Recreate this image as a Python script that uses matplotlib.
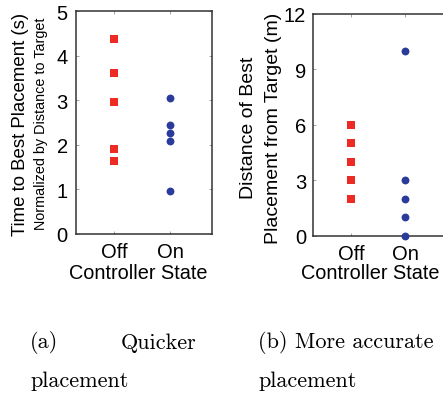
import matplotlib
matplotlib.use("Agg")
import matplotlib.pyplot as plt

categories = ["Off", "On"]
time_off = [4.37, 3.60, 2.95, 1.90, 1.62]
time_on = [3.05, 2.43, 2.25, 2.07, 0.95]
dist_off = [6, 5, 4, 3, 2]
dist_on = [10, 3, 2, 1, 0]
time_ticks = [0, 1, 2, 3, 4, 5]
dist_ticks = [0, 3, 6, 9, 12]

RED = "#ee2a24"
BLUE = "#2b3b9c"
SANS = ["Liberation Sans", "DejaVu Sans"]

W, H = 443, 402
fig = plt.figure(figsize=(W / 100, H / 100), dpi=100)


def px_axes(x0, y0, x1, y1):
    return fig.add_axes([x0 / W, 1 - y1 / H, (x1 - x0) / W, (y1 - y0) / H])


def style(ax, yticks, ylim, ypad):
    ax.set_xlim(0.32, 2.75)
    ax.set_ylim(*ylim)
    ax.set_xticks([1, 2])
    ax.set_xticklabels(categories, fontfamily=SANS, fontsize=14.5)
    ax.set_yticks(yticks)
    ax.set_yticklabels([str(t) for t in yticks], fontfamily=SANS, fontsize=14.5)
    ax.tick_params(direction="in", length=2.5, width=0.6, color="#7f9a9a",
                   top=True, right=True)
    ax.tick_params(axis="x", pad=6)
    ax.tick_params(axis="y", pad=ypad)
    for s in ax.spines.values():
        s.set_linewidth(1.1)
        s.set_color("#333333")


ax1 = px_axes(76, 12, 212, 234.5)
ax1.scatter([1] * len(time_off), time_off, marker="s", s=28, color=RED, clip_on=False, zorder=3, linewidths=0)
ax1.scatter([2] * len(time_on), time_on, marker="o", s=32, color=BLUE, clip_on=False, zorder=3, linewidths=0)
style(ax1, time_ticks, (0, 5), 6)
fig.text(21 / W, 1 - 124 / H, "Time to Best Placement (s)", rotation=90, ha="center", va="center",
         fontfamily=SANS, fontsize=13.4)
fig.text(41 / W, 1 - 124 / H, "Normalized by Distance to Target", rotation=90, ha="center", va="center",
         fontfamily=SANS, fontsize=10.4)
fig.text(138 / W, 1 - 274 / H, "Controller State", ha="center", va="center", fontfamily=SANS, fontsize=14.3)

ax2 = px_axes(313, 14.5, 449, 236.7)
ax2.scatter([1] * len(dist_off), dist_off, marker="s", s=28, color=RED, clip_on=False, zorder=3, linewidths=0)
ax2.scatter([2] * len(dist_on), dist_on, marker="o", s=32, color=BLUE, clip_on=False, zorder=3, linewidths=0)
style(ax2, dist_ticks, (0, 12), 5)
ax2.set_xlim(0.30, 2.8)
fig.text(249 / W, 1 - 128 / H, "Distance of Best", rotation=90, ha="center", va="center",
         fontfamily=SANS, fontsize=14)
fig.text(273 / W, 1 - 128 / H, "Placement from Target (m)", rotation=90, ha="center", va="center",
         fontfamily=SANS, fontsize=14)
fig.text(370 / W, 1 - 274 / H, "Controller State", ha="center", va="center", fontfamily=SANS, fontsize=14.3)

CAP = ["cmr10", "DejaVu Serif"]
FS = 16
fig.text(30 / W, 1 - 343 / H, "(a)", ha="left", va="center", fontfamily=CAP, fontsize=FS)
fig.text(196 / W, 1 - 343 / H, "Quicker", ha="right", va="center", fontfamily=CAP, fontsize=FS)
fig.text(30 / W, 1 - 381 / H, "placement", ha="left", va="center", fontfamily=CAP, fontsize=FS)
fig.text(258 / W, 1 - 343 / H, "(b) More accurate", ha="left", va="center", fontfamily=CAP, fontsize=FS)
fig.text(258 / W, 1 - 381 / H, "placement", ha="left", va="center", fontfamily=CAP, fontsize=FS)

fig.savefig("out.png", dpi=100)
